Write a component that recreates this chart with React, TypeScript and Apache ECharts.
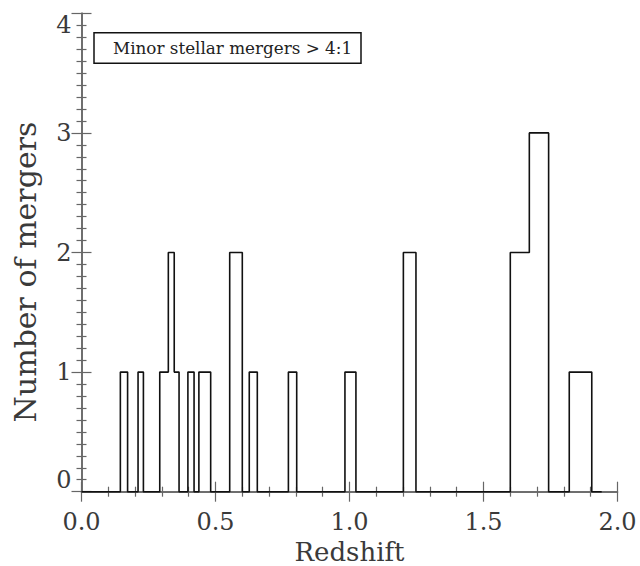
import React, { useEffect, useRef } from "react";
import * as echarts from "echarts";

// Histogram bins (redshift)
const binLefts = [0.145, 0.211, 0.292, 0.324, 0.346, 0.397, 0.438, 0.553, 0.626, 0.772, 0.983, 1.201, 1.6, 1.671, 1.82];
const binRights = [0.172, 0.231, 0.324, 0.346, 0.364, 0.42, 0.482, 0.6, 0.656, 0.803, 1.024, 1.248, 1.671, 1.743, 1.904];
const counts = [1, 1, 1, 2, 1, 1, 1, 2, 1, 1, 1, 2, 2, 3, 1];
const histStart = 0.0;
const histEnd = 1.941;

const xTicks = [0.0, 0.5, 1.0, 1.5, 2.0];
const yTicks = [0, 1, 2, 3, 4];
const legendText = "Minor stellar mergers > 4:1";
const xTitle = "Redshift";
const yTitle = "Number of mergers";

function buildSteps(): number[][] {
  const pts: number[][] = [[histStart, 0]];
  let prevX = histStart;
  for (let i = 0; i < counts.length; i++) {
    const l = binLefts[i];
    const r = binRights[i];
    const c = counts[i];
    if (l - prevX > 1e-6) {
      pts.push([prevX, 0]);
      pts.push([l, 0]);
    }
    pts.push([l, c]);
    pts.push([r, c]);
    prevX = r;
  }
  pts.push([prevX, 0]);
  pts.push([histEnd, 0]);
  return pts;
}

const FONT = "DejaVu Serif";
const AXIS_COLOR = "#666";
const TEXT_COLOR = "#3a3a3a";

export default function App() {
  const ref = useRef<HTMLDivElement>(null);
  useEffect(() => {
    if (!ref.current) return;
    const chart = echarts.init(ref.current, undefined, { renderer: "svg" });
    const axisLine = { show: true, lineStyle: { color: AXIS_COLOR, width: 1.5 } };
    const xCommon = {
      type: "value" as const,
      min: xTicks[0],
      max: xTicks[xTicks.length - 1],
      interval: 0.5,
      axisLine,
      splitLine: { show: false },
      axisTick: { show: true, inside: true, length: 10, lineStyle: { color: AXIS_COLOR, width: 1.2 } },
      minorTick: { show: true, splitNumber: 5, length: 5, lineStyle: { color: AXIS_COLOR, width: 1.2 } },
    };
    const yCommon = {
      type: "value" as const,
      min: yTicks[0],
      max: yTicks[yTicks.length - 1],
      interval: 1,
      axisLine,
      splitLine: { show: false },
      axisTick: { show: true, inside: true, length: 10, lineStyle: { color: AXIS_COLOR, width: 1.2 } },
      minorTick: { show: true, splitNumber: 10, length: 5, lineStyle: { color: AXIS_COLOR, width: 1.2 } },
    };
    chart.setOption({
      animation: false,
      backgroundColor: "#fff",
      grid: {
        left: 81.5,
        right: 22.5,
        top: 13.3,
        bottom: 74.3,
        containLabel: false,
        outerBoundsMode: "none",
      },
      xAxis: [
        {
          ...xCommon,
          position: "bottom",
          name: xTitle,
          nameLocation: "middle",
          nameGap: 46,
          nameTextStyle: { fontFamily: FONT, fontSize: 26, color: TEXT_COLOR, lineHeight: 26 },
          axisLabel: {
            show: true,
            margin: 18,
            fontFamily: FONT,
            fontSize: 24,
            color: TEXT_COLOR,
            formatter: (v: number) => v.toFixed(1),
          },
        },
        { ...xCommon, position: "top", axisLabel: { show: false } },
      ],
      yAxis: [
        {
          ...yCommon,
          position: "left",
          axisLabel: {
            show: true,
            margin: 10,
            fontFamily: FONT,
            fontSize: 24,
            color: TEXT_COLOR,
            verticalAlignMinLabel: "bottom",
            verticalAlignMaxLabel: "top",
            formatter: (v: number) => String(v),
          },
        },
        { ...yCommon, position: "right", axisLabel: { show: false } },
      ],
      graphic: [
        {
          type: "rect",
          shape: { x: 94, y: 32.7, width: 267, height: 30.6 },
          style: { fill: "none", stroke: "#111", lineWidth: 1.5 },
          z: 10,
        },
        {
          type: "text",
          x: 113,
          y: 48.3,
          style: {
            text: legendText,
            fontFamily: FONT,
            fontSize: 16.8,
            fill: "#222",
            verticalAlign: "middle",
            align: "left",
          },
          z: 10,
        },
        {
          type: "text",
          x: 25,
          y: 272,
          rotation: Math.PI / 2,
          style: {
            text: yTitle,
            fontFamily: FONT,
            fontSize: 30,
            fill: TEXT_COLOR,
            align: "center",
            verticalAlign: "middle",
          },
        },
      ],
      series: [
        {
          type: "line",
          xAxisIndex: 0,
          yAxisIndex: 0,
          data: buildSteps(),
          showSymbol: false,
          symbol: "none",
          lineStyle: { color: "#111", width: 1.6 },
          clip: false,
        },
      ],
    });
    return () => chart.dispose();
  }, []);
  return (
    <div
      ref={ref}
      style={{ position: "fixed", left: 0, top: 0, width: 640, height: 566, background: "#fff" }}
    />
  );
}
